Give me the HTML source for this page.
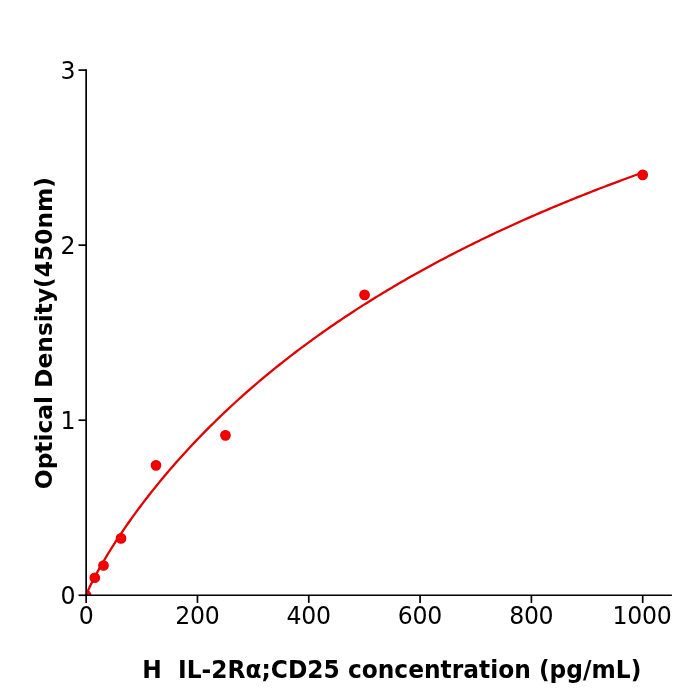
<!DOCTYPE html>
<html lang="en"><head><meta charset="utf-8"><title>ELISA standard curve</title>
<style>
html,body{margin:0;padding:0;background:#fff;}
body{width:700px;height:700px;overflow:hidden;}
svg{display:block;}
svg text{font-family:"DejaVu Sans","Liberation Sans",sans-serif;fill:#000;}
</style></head><body>
<svg width="700" height="700" viewBox="0 0 700 700">
<defs><clipPath id="ax"><rect x="86.15" y="70.1" width="585.75" height="525.15"/></clipPath></defs>
<rect width="700" height="700" fill="#fff"/>
<g clip-path="url(#ax)"><polyline points="86.15,595.25 86.65,593.83 87.15,592.60 87.65,591.43 88.15,590.30 88.65,589.19 89.15,588.12 89.65,587.06 90.15,586.02 90.65,584.99 91.15,583.97 91.65,582.97 92.15,581.98 92.65,581.00 93.15,580.03 93.65,579.07 94.15,578.11 94.65,577.16 95.15,576.22 95.65,575.29 96.15,574.37 96.65,573.45 97.15,572.53 97.65,571.62 98.15,570.72 99.15,568.93 101.88,564.15 104.61,559.50 107.34,554.96 110.08,550.52 112.81,546.18 115.54,541.92 118.27,537.75 121.00,533.65 123.73,529.62 126.46,525.65 129.20,521.75 131.93,517.91 134.66,514.13 137.39,510.41 140.12,506.73 142.85,503.11 145.58,499.54 148.32,496.01 151.05,492.53 153.78,489.10 156.51,485.71 159.24,482.36 161.97,479.05 164.70,475.78 167.44,472.55 170.17,469.35 172.90,466.20 175.63,463.08 178.36,459.99 181.09,456.94 183.82,453.92 186.56,450.93 189.29,447.98 192.02,445.05 194.75,442.16 197.48,439.29 200.21,436.46 202.94,433.65 205.67,430.87 208.41,428.12 211.14,425.40 213.87,422.70 216.60,420.03 219.33,417.38 222.06,414.76 224.79,412.16 227.53,409.58 230.26,407.03 232.99,404.51 235.72,402.00 238.45,399.52 241.18,397.06 243.91,394.62 246.65,392.21 249.38,389.81 252.11,387.44 254.84,385.08 257.57,382.75 260.30,380.43 263.03,378.14 265.77,375.86 268.50,373.60 271.23,371.36 273.96,369.14 276.69,366.94 279.42,364.76 282.15,362.59 284.89,360.44 287.62,358.30 290.35,356.19 293.08,354.09 295.81,352.01 298.54,349.94 301.27,347.89 304.01,345.85 306.74,343.83 309.47,341.83 312.20,339.83 314.93,337.86 317.66,335.90 320.39,333.95 323.13,332.02 325.86,330.10 328.59,328.20 331.32,326.31 334.05,324.43 336.78,322.57 339.51,320.72 342.25,318.89 344.98,317.06 347.71,315.25 350.44,313.45 353.17,311.67 355.90,309.89 358.63,308.13 361.37,306.38 364.10,304.65 366.83,302.92 369.56,301.21 372.29,299.51 375.02,297.82 377.75,296.14 380.48,294.47 383.22,292.81 385.95,291.16 388.68,289.53 391.41,287.90 394.14,286.29 396.87,284.69 399.60,283.09 402.34,281.51 405.07,279.93 407.80,278.37 410.53,276.82 413.26,275.27 415.99,273.74 418.72,272.22 421.46,270.70 424.19,269.20 426.92,267.70 429.65,266.21 432.38,264.73 435.11,263.27 437.84,261.81 440.58,260.35 443.31,258.91 446.04,257.48 448.77,256.05 451.50,254.64 454.23,253.23 456.96,251.83 459.70,250.44 462.43,249.05 465.16,247.68 467.89,246.31 470.62,244.95 473.35,243.60 476.08,242.25 478.82,240.92 481.55,239.59 484.28,238.27 487.01,236.95 489.74,235.65 492.47,234.35 495.20,233.06 497.94,231.77 500.67,230.50 503.40,229.23 506.13,227.96 508.86,226.71 511.59,225.46 514.32,224.22 517.06,222.98 519.79,221.75 522.52,220.53 525.25,219.32 527.98,218.11 530.71,216.90 533.44,215.71 536.18,214.52 538.91,213.34 541.64,212.16 544.37,210.99 547.10,209.82 549.83,208.66 552.56,207.51 555.29,206.37 558.03,205.23 560.76,204.09 563.49,202.96 566.22,201.84 568.95,200.72 571.68,199.61 574.41,198.51 577.15,197.41 579.88,196.31 582.61,195.22 585.34,194.14 588.07,193.06 590.80,191.99 593.53,190.92 596.27,189.86 599.00,188.80 601.73,187.75 604.46,186.70 607.19,185.66 609.92,184.63 612.65,183.60 615.39,182.57 618.12,181.55 620.85,180.53 623.58,179.52 626.31,178.52 629.04,177.51 631.77,176.52 634.51,175.53 637.24,174.54 639.97,173.56 642.70,172.58" fill="none" stroke="#df0000" stroke-width="2.3" stroke-linejoin="round" stroke-linecap="butt"/>
<circle cx="86.15" cy="595.25" r="4.75" fill="#f80000" stroke="#df0000" stroke-width="1.2"/>
<circle cx="94.8" cy="577.75" r="4.75" fill="#f80000" stroke="#df0000" stroke-width="1.2"/>
<circle cx="103.5" cy="565.5" r="4.75" fill="#f80000" stroke="#df0000" stroke-width="1.2"/>
<circle cx="121.0" cy="538.4" r="4.75" fill="#f80000" stroke="#df0000" stroke-width="1.2"/>
<circle cx="156.0" cy="465.35" r="4.75" fill="#f80000" stroke="#df0000" stroke-width="1.2"/>
<circle cx="225.45" cy="435.35" r="4.75" fill="#f80000" stroke="#df0000" stroke-width="1.2"/>
<circle cx="364.55" cy="294.9" r="4.75" fill="#f80000" stroke="#df0000" stroke-width="1.2"/>
<circle cx="642.7" cy="174.85" r="4.75" fill="#f80000" stroke="#df0000" stroke-width="1.2"/>
</g>
<line x1="86.15" y1="69.25" x2="86.15" y2="596.10" stroke="#000" stroke-width="1.7"/>
<line x1="85.30" y1="595.25" x2="671.9" y2="595.25" stroke="#000" stroke-width="1.7"/>
<line x1="86.15" y1="595.25" x2="86.15" y2="602.90" stroke="#000" stroke-width="1.7"/>
<text transform="translate(86.00,623.75) scale(1,1.032)" text-anchor="middle" font-size="23.6" letter-spacing="-0.3">0</text>
<line x1="197.46" y1="595.25" x2="197.46" y2="602.90" stroke="#000" stroke-width="1.7"/>
<text transform="translate(197.31,623.75) scale(1,1.032)" text-anchor="middle" font-size="23.6" letter-spacing="-0.3">200</text>
<line x1="308.77" y1="595.25" x2="308.77" y2="602.90" stroke="#000" stroke-width="1.7"/>
<text transform="translate(308.62,623.75) scale(1,1.032)" text-anchor="middle" font-size="23.6" letter-spacing="-0.3">400</text>
<line x1="420.08" y1="595.25" x2="420.08" y2="602.90" stroke="#000" stroke-width="1.7"/>
<text transform="translate(419.93,623.75) scale(1,1.032)" text-anchor="middle" font-size="23.6" letter-spacing="-0.3">600</text>
<line x1="531.39" y1="595.25" x2="531.39" y2="602.90" stroke="#000" stroke-width="1.7"/>
<text transform="translate(531.24,623.75) scale(1,1.032)" text-anchor="middle" font-size="23.6" letter-spacing="-0.3">800</text>
<line x1="642.70" y1="595.25" x2="642.70" y2="602.90" stroke="#000" stroke-width="1.7"/>
<text transform="translate(641.95,623.75) scale(1,1.032)" text-anchor="middle" font-size="23.6" letter-spacing="-0.3">1000</text>
<line x1="78.50" y1="595.25" x2="86.15" y2="595.25" stroke="#000" stroke-width="1.7"/>
<text transform="translate(75.6,604.45) scale(1,1.032)" text-anchor="end" font-size="23.6">0</text>
<line x1="78.50" y1="420.20" x2="86.15" y2="420.20" stroke="#000" stroke-width="1.7"/>
<text transform="translate(75.6,429.40) scale(1,1.032)" text-anchor="end" font-size="23.6">1</text>
<line x1="78.50" y1="245.15" x2="86.15" y2="245.15" stroke="#000" stroke-width="1.7"/>
<text transform="translate(75.6,254.35) scale(1,1.032)" text-anchor="end" font-size="23.6">2</text>
<line x1="78.50" y1="70.10" x2="86.15" y2="70.10" stroke="#000" stroke-width="1.7"/>
<text transform="translate(75.6,79.30) scale(1,1.032)" text-anchor="end" font-size="23.6">3</text>
<text transform="translate(391.8,677.6) scale(1,1.045)" text-anchor="middle" font-size="23.33" font-weight="bold" xml:space="preserve">H  IL-2Rα;CD25 concentration (pg/mL)</text>
<text transform="translate(52.4,333.1) rotate(-90) scale(1,1.005)" text-anchor="middle" font-size="23.33" font-weight="bold">Optical Density(450nm)</text>
</svg>
</body></html>
